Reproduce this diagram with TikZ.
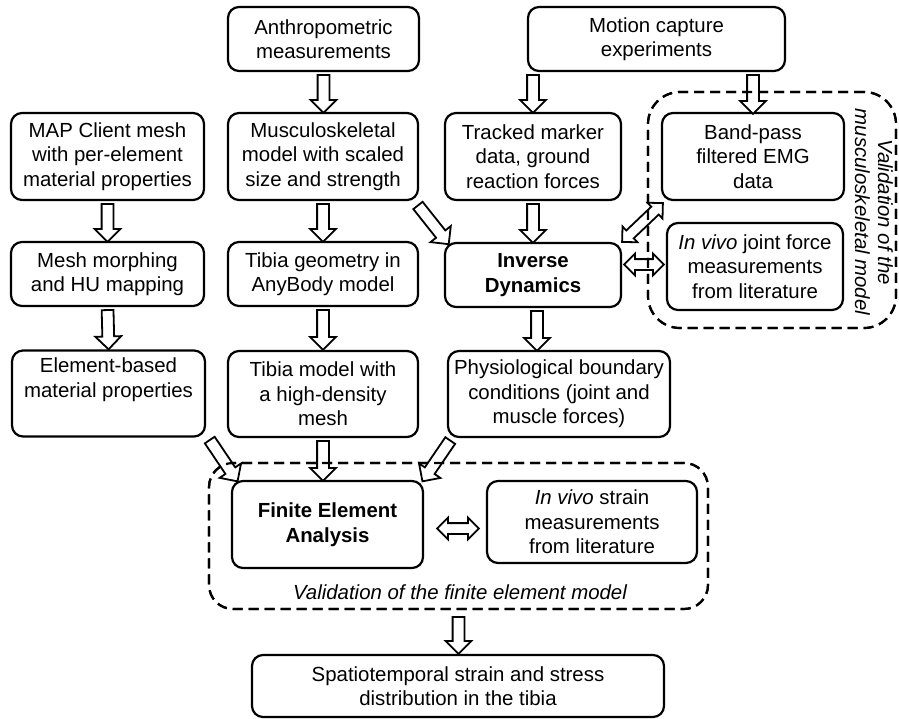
\documentclass[tikz,border=0pt]{standalone}
\usepackage{fontspec}
\setmainfont{Liberation Sans}
\usetikzlibrary{shapes.arrows,calc}
\newcommand{\harr}[2]{\path let \p1=#1, \p2=#2, \n1={veclen(\x2-\x1,\y2-\y1)} in (\p1) -- node[harrow, minimum height=\n1] {} (\p2);}
\newcommand{\hdarr}[2]{\path let \p1=#1, \p2=#2, \n1={veclen(\x2-\x1,\y2-\y1)} in (\p1) -- node[hdarrow, minimum height=\n1] {} (\p2);}
\begin{document}
\begin{tikzpicture}[x=1pt,y=-1pt,
  box/.style={draw, line width=2.2pt, rounded corners=11pt, align=center, inner sep=0pt,
    font=\fontsize{20.4}{24.5}\selectfont},
  size/.style 2 args={minimum width=#1pt, minimum height=#2pt},
  region/.style={draw, line width=2.2pt, dash pattern=on 10pt off 6pt, rounded corners=24pt, inner sep=0pt},
  harrow/.style={single arrow, draw, fill=white, line width=1.8pt, inner xsep=0pt, inner ysep=5pt,
    single arrow head extend=7pt, single arrow tip angle=90, minimum width=0pt, sloped, allow upside down},
  hdarrow/.style={double arrow, draw, fill=white, line width=1.8pt, inner xsep=0pt, inner ysep=4.5pt,
    double arrow head extend=5.5pt, double arrow tip angle=90, minimum width=0pt, sloped, allow upside down},
  lbl/.style={font=\fontsize{20.4}{23}\selectfont\itshape, align=center, inner sep=0pt}]
\useasboundingbox (0,0) rectangle (899,718);

\node[box, size={191}{64}] (anth) at (323.5,39) {Anthropometric\\measurements};
\node[box, size={257}{64}] (motion) at (656.5,39) {Motion capture\\experiments};
\node[box, size={193}{87}] (map) at (107.5,156.5) {MAP Client mesh\\with per-element\\material properties};
\node[box, size={190}{87}] (musc) at (323,156.5) {Musculoskeletal\\model with scaled\\size and strength};
\node[box, size={176}{87}] (tracked) at (533,156.5) {Tracked marker\\data, ground\\reaction forces};
\node[box, size={182}{87}] (band) at (753,156.5) {Band-pass\\filtered EMG\\data};
\node[box, size={193}{64}] (mesh) at (107.5,274) {Mesh morphing\\and HU mapping};
\node[box, size={190}{64}] (geom) at (323,274) {Tibia geometry in\\AnyBody model};
\node[box, size={176}{64}] (inv) at (533,275) {\textbf{Inverse}\\\textbf{Dynamics}};
\node[box, size={176}{87}] (joint) at (755,266.5) {\textit{In vivo} joint force\\measurements\\from literature};
\node[box, size={193}{86}] (elem) at (108.5,393.5) {Element-based\\material properties\\\strut};
\node[box, size={190}{86}] (tmodel) at (323,394) {Tibia model with\\a high-density\\mesh};
\node[box, size={222}{86}] (phys) at (559,394) {Physiological boundary\\conditions (joint and\\muscle forces)};
\node[box, size={191}{87}] (fe) at (327.5,524.5) {\textbf{Finite Element}\\\textbf{Analysis}};
\node[box, size={210}{82}] (strain) at (592,522) {\textit{In vivo} strain\\measurements\\from literature};
\node[box, size={412}{62}] (spatio) at (458,686) {Spatiotemporal strain and stress\\distribution in the tibia};

\node[region, size={499}{146}] (feval) at (458.5,536) {};
\node[region, rounded corners=32pt, size={248}{236}] (mskval) at (772,210) {};
\node[lbl] (fevallabel) at (460,592) {Validation of the finite element model};
\node[lbl, rotate=-90] (msklabel) at (874,212) {Validation of the\\musculoskeletal model};

\harr{(anth.south)}{($(anth.south |- musc.north)+(0,-2)$)}
\harr{(motion.south -| tracked.north)}{($(tracked.north)+(0,-2)$)}
\harr{(motion.south -| band.north)}{($(band.north)+(0,-1)$)}
\harr{(map.south)}{($(mesh.north)+(0,-2)$)}
\harr{(musc.south)}{($(geom.north)+(0,-2)$)}
\harr{(tracked.south)}{($(inv.north)+(0,-2)$)}
\harr{(mesh.south)}{($(elem.north)+(0,-3)$)}
\harr{(geom.south)}{($(tmodel.north)+(0,-3)$)}
\harr{($(inv.south)+(4,0)$)}{($(inv.south |- phys.north)+(4,-2)$)}
\harr{($(musc.south east)+(-3,2)$)}{($(inv.north west)+(3,0)$)}
\harr{($(elem.south east)+(2,0)$)}{($(fe.north west)+(5,-1)$)}
\harr{($(phys.south west)+(5,0)$)}{($(fe.north east)+(0,-1)$)}
\harr{(tmodel.south)}{($(tmodel.south |- fe.north)+(0,-2)$)}
\harr{($(feval.south)+(0,4)$)}{($(feval.south |- spatio.north)+(0,-3)$)}
\hdarr{(inv.north east)}{($(band.south west)+(2,2)$)}
\hdarr{($(inv.east |- joint.west)+(2,-2)$)}{($(joint.west)+(-2,-2)$)}
\hdarr{($(fe.east)+(13,4)$)}{($(strain.west |- fe.east)+(-7,4)$)}

\node[region, size={499}{146}] at (458.5,536) {};
\node[region, rounded corners=32pt, size={248}{236}] at (772,210) {};
\end{tikzpicture}
\end{document}
